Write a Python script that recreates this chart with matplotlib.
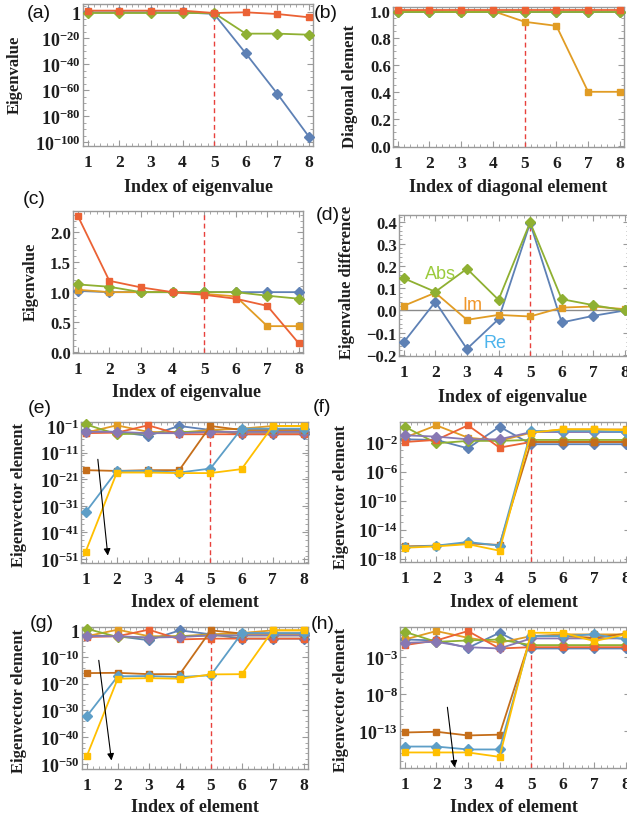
import matplotlib
matplotlib.use('Agg')
import matplotlib.pyplot as plt
import matplotlib.ticker as mticker
import numpy as np

plt.rcParams['font.family'] = 'Liberation Serif'
plt.rcParams['font.weight'] = 'bold'
plt.rcParams['mathtext.fontset'] = 'custom'
plt.rcParams['mathtext.rm'] = 'Liberation Serif:bold'
plt.rcParams['mathtext.bf'] = 'Liberation Serif:bold'
plt.rcParams['mathtext.it'] = 'Liberation Serif:bold'
plt.rcParams['axes.unicode_minus'] = True

# ---------------- data ----------------
idx = [1, 2, 3, 4, 5, 6, 7, 8]
xticks = [1, 2, 3, 4, 5, 6, 7, 8]

# (a) eigenvalues (log)
a_blue = [1, 1, 1, 1, 0.06, 3e-32, 2.5e-63, 2.5e-96]
a_green = [0.3, 0.3, 0.3, 0.3, 0.3, 4e-17, 4e-17, 6e-18]
a_red = [20, 20, 20, 20, 0.3, 1, 0.05, 1.5e-4]
a_yticks = [1, 1e-20, 1e-40, 1e-60, 1e-80, 1e-100]

# (b) diagonal elements
b_blue = [0.99, 0.99, 0.99, 0.99, 0.99, 0.99, 0.99, 0.99]
b_green = [0.99, 0.99, 0.99, 0.99, 0.99, 0.99, 0.99, 0.99]
b_red = [1.005, 1.005, 1.005, 1.005, 1.005, 1.005, 1.005, 1.005]
b_orange = [1.0, 1.0, 0.99, 1.0, 0.92, 0.89, 0.40, 0.40]
b_yticks = [0.0, 0.2, 0.4, 0.6, 0.8, 1.0]

# (c) eigenvalues (linear)
c_blue = [1.02, 1.0, 1.0, 1.0, 1.0, 1.0, 1.0, 1.0]
c_orange = [1.04, 1.0, 1.0, 1.0, 0.97, 0.93, 0.43, 0.43]
c_green = [1.13, 1.09, 1.0, 1.0, 1.0, 1.0, 0.94, 0.89]
c_red = [2.28, 1.19, 1.08, 1.0, 0.955, 0.89, 0.77, 0.14]
c_yticks = [0.0, 0.5, 1.0, 1.5, 2.0]

# (d) eigenvalue difference
d_re = [-0.143, 0.039, -0.173, -0.039, 0.394, -0.054, -0.024, 0.0]
d_im = [0.021, 0.08, -0.042, -0.02, -0.027, 0.013, 0.018, 0.006]
d_abs = [0.145, 0.084, 0.188, 0.048, 0.397, 0.051, 0.024, 0.0]
d_yticks = [-0.2, -0.1, 0.0, 0.1, 0.2, 0.3, 0.4]

# (e) eigenvector elements
e_blue = [1.3e-3, 6.3e-4, 2e-5, 0.1, 3.2e-3, 7.9e-5, 7.9e-5, 7.9e-5]
e_orange = [3.2e-4, 0.18, 6.3e-4, 3.2e-4, 3.2e-3, 0.01, 0.1, 0.1]
e_green = [0.44, 7.9e-5, 2e-4, 6.3e-4, 6.3e-4, 6.3e-4, 6.3e-4, 6.3e-4]
e_red = [2e-4, 3.2e-4, 0.18, 7.9e-5, 7.9e-5, 7.9e-5, 7.9e-5, 7.9e-5]
e_purple = [6.3e-4, 6.3e-4, 2e-4, 2e-4, 6.3e-4, 6.3e-4, 6.3e-4, 6.3e-4]
e_brown = [2.5e-18, 1.3e-18, 2.5e-18, 2.5e-18, 0.1, 3.2e-3, 3.2e-3, 3.2e-3]
e_lblue = [4e-34, 1.3e-18, 1.3e-18, 3.2e-19, 1e-17, 0.01, 0.01, 0.01]
e_yellow = [6.3e-49, 3.2e-19, 3.2e-19, 2e-19, 2e-19, 6.3e-18, 0.1, 0.1]
e_yticks = [1e-1, 1e-11, 1e-21, 1e-31, 1e-41, 1e-51]

# (f) eigenvector elements
f_blue = [0.028, 0.023, 0.0016, 1.55, 0.0059, 0.0059, 0.0059, 0.0059]
f_orange = [0.048, 2.34, 0.048, 0.017, 0.23, 0.66, 0.66, 0.66]
f_green = [1.55, 0.0079, 0.017, 0.017, 0.023, 0.023, 0.023, 0.023]
f_red = [0.012, 0.023, 2.34, 0.002, 0.012, 0.012, 0.012, 0.012]
f_purple = [0.1, 0.066, 0.028, 0.028, 0.28, 0.28, 0.28, 0.28]
f_brown = [5e-17, 6.3e-17, 1.26e-16, 7.9e-17, 0.012, 0.012, 0.012, 0.012]
f_lblue = [4e-17, 6.3e-17, 2e-16, 6.3e-17, 0.39, 0.39, 0.39, 0.28]
f_yellow = [3.2e-17, 5e-17, 1e-16, 1.26e-17, 0.23, 0.66, 0.66, 0.5]
f_yticks = [1e-2, 1e-6, 1e-10, 1e-14, 1e-18]

# (g) eigenvector elements
g_blue = [0.0126, 0.0063, 2e-4, 1, 0.032, 7.9e-4, 7.9e-4, 7.9e-4]
g_orange = [0.0063, 1.78, 0.0063, 0.0063, 0.032, 0.1, 1, 1]
g_green = [3.98, 0.0032, 0.002, 0.0063, 0.0126, 0.0126, 0.0126, 0.0126]
g_red = [0.0032, 0.0063, 1.78, 4e-4, 7.9e-4, 7.9e-4, 7.9e-4, 7.9e-4]
g_purple = [0.0063, 0.0063, 0.002, 0.0032, 0.0126, 0.0126, 0.0126, 0.0126]
g_brown = [1e-16, 1.26e-16, 4e-17, 4e-17, 1, 0.063, 0.063, 0.063]
g_lblue = [6.3e-33, 6.3e-18, 7.9e-18, 3.2e-18, 1.6e-17, 0.1, 0.1, 0.1]
g_yellow = [6.3e-48, 7.9e-19, 1.26e-18, 7.9e-19, 3.2e-17, 4e-17, 1, 1]
g_yticks = [1, 1e-10, 1e-20, 1e-30, 1e-40, 1e-50]

# (h) eigenvector elements
h_blue = [0.23, 0.17, 0.017, 1.86, 0.014, 0.014, 0.014, 0.014]
h_orange = [0.23, 3.16, 0.39, 0.083, 0.66, 1.12, 1.12, 1.12]
h_green = [2.5, 0.11, 0.17, 0.23, 0.04, 0.04, 0.04, 0.04]
h_red = [0.04, 0.17, 3.16, 0.014, 0.021, 0.021, 0.021, 0.021]
h_purple = [0.083, 0.11, 0.021, 0.014, 0.32, 0.32, 0.32, 0.32]
h_brown = [6.3e-14, 7.9e-14, 2.5e-14, 3.2e-14, 0.66, 0.66, 0.39, 1.38]
h_lblue = [7.9e-16, 7.9e-16, 3.2e-16, 3.2e-16, 0.66, 0.66, 1.12, 0.23]
h_yellow = [1.26e-16, 1.26e-16, 1.26e-16, 3.2e-17, 1.86, 1.86, 0.14, 1.12]
h_yticks = [1e-3, 1e-8, 1e-13]

# ---------------- style ----------------
C = dict(blue='#5E81B5', orange='#E19C24', green='#8FB032', red='#EB6235',
         purple='#8778B3', brown='#C56E1A', lblue='#5D9EC7', yellow='#FFBF00')
MK = dict(blue='D', orange='s', green='D', red='s', purple='D', brown='s',
          lblue='D', yellow='s')
FRAME = '#9a9a9a'
TXT = '#1e1e1e'
VRED = '#E8413C'

W, H = 627, 820
fig = plt.figure(figsize=(W / 100, H / 100), dpi=100)


def px_axes(x0, y0, x1, y1):
    return fig.add_axes([x0 / W, 1 - y1 / H, (x1 - x0) / W, (y1 - y0) / H])


def line(ax, y, key):
    ax.plot(idx, y, color=C[key], lw=1.3, marker=MK[key],
            ms=4.8 if MK[key] == 's' else 5.2, mec=C[key], mfc=C[key],
            zorder=3, clip_on=False)


def logfmt(v, pos):
    e = int(round(np.log10(v)))
    if e == 0:
        return '1'
    return r'$\mathbf{10^{%d}}$' % e


def linfmt(v, pos):
    s = '%.1f' % (round(v, 3) + 0.0)
    if s == '-0.0':
        s = '0.0'
    return s.replace('-', '\u2212')


def style(ax, ylim, yticks, log=False, minor=None):
    ax.set_xlim(0.85, 8.13)
    if log:
        ax.set_yscale('log')
    ax.set_ylim(*ylim)
    for sp in ax.spines.values():
        sp.set_color(FRAME)
        sp.set_linewidth(1.0)
    ax.xaxis.set_major_locator(mticker.FixedLocator(xticks))
    ax.xaxis.set_minor_locator(mticker.MultipleLocator(0.2))
    ax.xaxis.set_minor_formatter(mticker.NullFormatter())
    ax.yaxis.set_major_locator(mticker.FixedLocator(yticks))
    if log:
        ax.yaxis.set_major_formatter(mticker.FuncFormatter(logfmt))
        if minor is not None:
            ax.yaxis.set_minor_locator(mticker.FixedLocator(minor))
        else:
            ax.yaxis.set_minor_locator(mticker.NullLocator())
    else:
        ax.yaxis.set_major_formatter(mticker.FuncFormatter(linfmt))
        ax.yaxis.set_minor_locator(mticker.MultipleLocator(minor))
    ax.yaxis.set_minor_formatter(mticker.NullFormatter())
    ax.tick_params(which='both', direction='in', top=True, right=True,
                   color=FRAME, labelcolor=TXT)
    ax.tick_params(which='major', length=4, width=0.8)
    ax.tick_params(which='minor', length=2, width=0.6)
    ax.tick_params(axis='x', labelsize=12.5, pad=6)
    ax.tick_params(axis='y', labelsize=13 if log else 12, pad=1.5)


def vline(ax, lo, hi):
    ax.plot([5, 5], [lo, hi], ls=(0, (3.5, 2.5)), color=VRED, lw=1.0, zorder=2)


def labels(xl, xc, yc, yl, ylx, yly, tag, tx, ty):
    fig.text(xc / W, 1 - yc / H, xl, ha='center', va='center',
             fontsize=13, fontweight='bold', color=TXT)
    fig.text(ylx / W, 1 - yly / H, yl, ha='center', va='center', rotation=90,
             fontsize=12, fontweight='bold', color=TXT)
    fig.text(tx / W, 1 - ty / H, tag, ha='center', va='center', fontsize=14,
             family='Liberation Sans', fontweight='normal', color='#111111')


# (a)
ax = px_axes(83, 5, 313, 147)
style(ax, (1.6e-103, 2.5e6), a_yticks, log=True,
      minor=[10.0 ** k for k in range(-100, 6, 5)])
vline(ax, 1.6e-103, 1)
line(ax, a_blue, 'blue')
line(ax, a_green, 'green')
line(ax, a_red, 'red')
labels('Index of eigenvalue', 198, 188, 'Eigenvalue', 15, 75, '(a)', 39, 13)

# (b)
ax = px_axes(393, 8, 624, 148)
style(ax, (-0.01, 1.03), b_yticks, minor=0.05)
vline(ax, -0.01, 0.92)
line(ax, b_blue, 'blue')
line(ax, b_orange, 'orange')
line(ax, b_green, 'green')
line(ax, b_red, 'red')
labels('Index of diagonal element', 508, 188, 'Diagonal element', 350, 86,
       '(b)', 326, 14)

# (c)
ax = px_axes(73, 212, 303, 354)
style(ax, (-0.02, 2.36), c_yticks, minor=0.1)
vline(ax, -0.02, 2.36)
line(ax, c_blue, 'blue')
line(ax, c_orange, 'orange')
line(ax, c_green, 'green')
line(ax, c_red, 'red')
labels('Index of eigenvalue', 187, 393, 'Eigenvalue', 31, 282, '(c)', 34, 199)

# (d)
ax = px_axes(399, 216, 629, 357)
style(ax, (-0.205, 0.43), d_yticks, minor=0.02)
ax.axhline(0, color='#8a8a8a', lw=1.0, zorder=1)
vline(ax, -0.205, 0.39)
line(ax, d_re, 'blue')
line(ax, d_im, 'orange')
line(ax, d_abs, 'green')
ax.text(2.16, 0.167, 'Abs', color='#9BCB3C', fontsize=13,
        family='Liberation Sans', fontweight='normal', ha='center', va='center')
ax.text(3.16, 0.028, 'Im', color='#F0962A', fontsize=13,
        family='Liberation Sans', fontweight='normal', ha='center', va='center')
ax.text(3.88, -0.146, 'Re', color='#4DB4EC', fontsize=13,
        family='Liberation Sans', fontweight='normal', ha='center', va='center')
labels('Index of eigenvalue', 513, 398, 'Eigenvalue difference', 347, 282,
       '(d)', 328, 215)

vec_keys = ['blue', 'orange', 'green', 'red', 'purple', 'brown', 'lblue', 'yellow']

# (e)
ax = px_axes(81, 423, 308, 564)
style(ax, (3.2e-53, 3.2), e_yticks, log=True,
      minor=[10.0 ** k for k in range(-52, 1, 2)])
vline(ax, 3.2e-53, 0.01)
for k, y in zip(vec_keys, [e_blue, e_orange, e_green, e_red, e_purple,
                           e_brown, e_lblue, e_yellow]):
    line(ax, y, k)
ax.annotate('', xy=(1.71, 2e-50), xytext=(1.39, 3e-14),
            arrowprops=dict(arrowstyle='-|>', color='black', lw=0.8,
                            mutation_scale=10, shrinkA=0, shrinkB=0))
labels('Index of element', 195, 603, 'Eigenvector element', 19, 495,
       '(e)', 40, 409)

# (f)
ax = px_axes(400, 423, 630, 563)
style(ax, (3.5e-19, 6.8), f_yticks, log=True,
      minor=[10.0 ** k for k in range(-18, 1, 1)])
vline(ax, 3.5e-19, 0.01)
for k, y in zip(vec_keys, [f_blue, f_orange, f_green, f_red, f_purple,
                           f_brown, f_lblue, f_yellow]):
    line(ax, y, k)
labels('Index of element', 514, 603, 'Eigenvector element', 341, 497,
       '(f)', 322, 408)

# (g)
ax = px_axes(82, 628, 308, 770)
style(ax, (1.26e-52, 17.8), g_yticks, log=True,
      minor=[10.0 ** k for k in range(-52, 2, 2)])
vline(ax, 1.26e-52, 0.01)
for k, y in zip(vec_keys, [g_blue, g_orange, g_green, g_red, g_purple,
                           g_brown, g_lblue, g_yellow]):
    line(ax, y, k)
ax.annotate('', xy=(1.80, 2e-49), xytext=(1.39, 6e-12),
            arrowprops=dict(arrowstyle='-|>', color='black', lw=0.8,
                            mutation_scale=10, shrinkA=0, shrinkB=0))
labels('Index of element', 195, 808, 'Eigenvector element', 19, 701,
       '(g)', 42, 624)

# (h)
ax = px_axes(400, 628, 630, 769)
style(ax, (1e-18, 11.2), h_yticks, log=True,
      minor=[10.0 ** k for k in range(-18, 2, 1)])
vline(ax, 1e-18, 0.01)
for k, y in zip(vec_keys, [h_blue, h_orange, h_green, h_red, h_purple,
                           h_brown, h_lblue, h_yellow]):
    line(ax, y, k)
ax.annotate('', xy=(2.58, 1.2e-18), xytext=(2.35, 1.6e-10),
            arrowprops=dict(arrowstyle='-|>', color='black', lw=0.8,
                            mutation_scale=10, shrinkA=0, shrinkB=0))
labels('Index of element', 514, 808, 'Eigenvector element', 341, 700,
       '(h)', 323, 625)

fig.savefig('out.png', dpi=100)
